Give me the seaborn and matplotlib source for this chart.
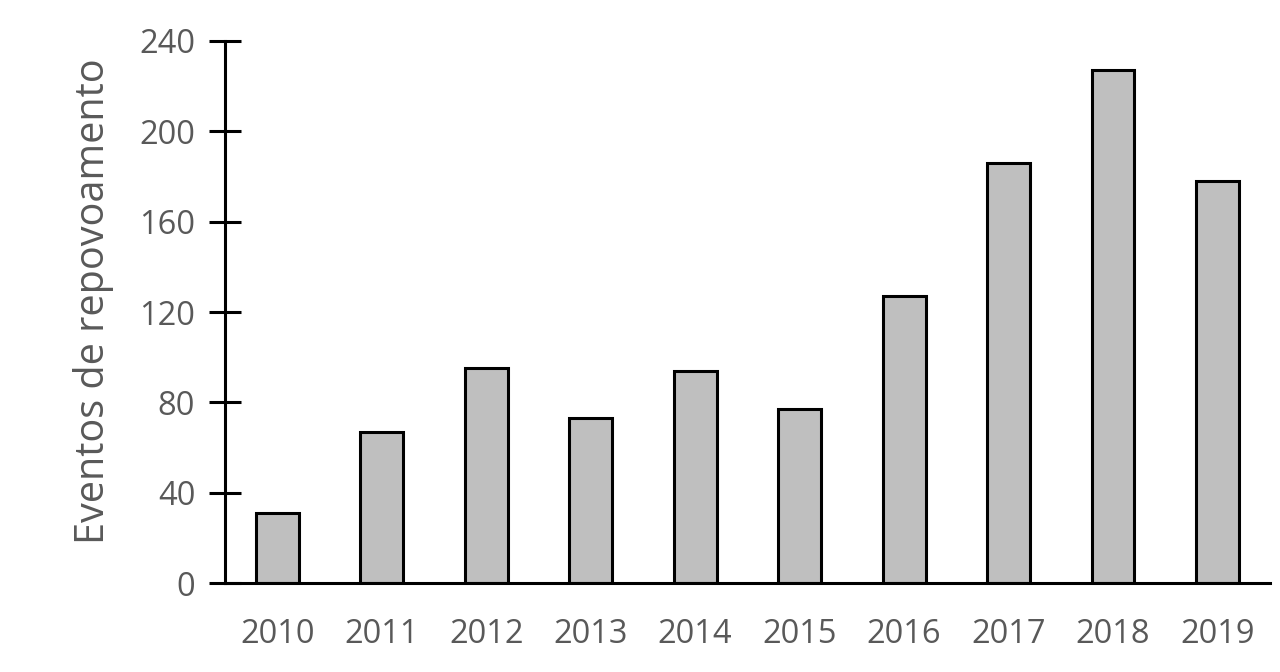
import matplotlib
matplotlib.use("Agg")
import matplotlib.pyplot as plt
import seaborn as sns
import pandas as pd

years = ["2010", "2011", "2012", "2013", "2014", "2015", "2016", "2017", "2018", "2019"]
eventos = [31, 67, 95, 73, 94, 77, 127, 186, 227, 178]
yticks = [0, 40, 80, 120, 160, 200, 240]

sns.set_theme(style="white")
plt.rcParams["font.family"] = ["Open Sans", "DejaVu Sans"]

df = pd.DataFrame({"ano": years, "eventos": eventos})

fig = plt.figure(figsize=(12.8, 6.72), dpi=100)
ax = fig.add_axes([0.1758, 0.1324, 0.8162, 0.8066])
sns.barplot(data=df, x="ano", y="eventos", color="#bfbfbf", edgecolor="black",
            linewidth=2.2, width=0.41, saturation=1, ax=ax)

ax.set_xlim(-0.5, 9.5)
ax.set_ylim(0, 240)
ax.set_yticks(yticks)
ax.set_yticklabels([str(t) for t in yticks])
for s in ["top", "right"]:
    ax.spines[s].set_visible(False)
for s in ["left", "bottom"]:
    ax.spines[s].set_color("black")
    ax.spines[s].set_linewidth(2.2)
ax.tick_params(axis="y", direction="inout", length=23, width=2.2, color="black",
               labelsize=23.5, labelcolor="#595959", pad=10, left=True)
ax.tick_params(axis="x", length=0, labelsize=23.5, labelcolor="#595959", pad=25)
ax.set_xlabel("")
ax.set_ylabel("Eventos de repovoamento", fontsize=28.5, color="#595959")
ax.yaxis.set_label_coords(-0.106, 0.52)

fig.savefig("out.png", dpi=100)
